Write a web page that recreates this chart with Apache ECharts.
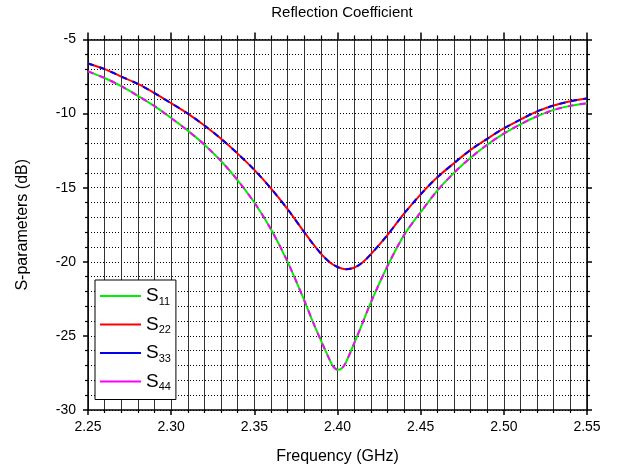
<!DOCTYPE html>
<html>
<head>
<meta charset="utf-8">
<script src="https://cdn.jsdelivr.net/npm/echarts@6/dist/echarts.min.js"></script>
<style>
html,body{margin:0;padding:0;background:#fff;}
#chart{width:617px;height:470px;}
</style>
</head>
<body>
<div id="chart"></div>
<script>
const freq = [2.25,2.26,2.27,2.28,2.29,2.30,2.31,2.32,2.33,2.34,2.35,2.36,2.37,2.38,2.385,2.39,2.395,2.3975,2.40,2.4025,2.405,2.41,2.415,2.42,2.43,2.44,2.45,2.46,2.47,2.48,2.49,2.50,2.51,2.52,2.53,2.54,2.55];
const s11 = [-7.15,-7.6,-8.15,-8.8,-9.5,-10.3,-11.15,-12.1,-13.2,-14.5,-16.0,-17.8,-20.0,-22.6,-24.0,-25.3,-26.55,-27.08,-27.29,-27.2,-26.8,-25.5,-24.15,-22.75,-20.3,-18.2,-16.65,-15.2,-14.0,-12.98,-12.1,-11.35,-10.72,-10.18,-9.75,-9.48,-9.3];
const s22 = [-6.62,-7.0,-7.5,-8.0,-8.62,-9.3,-10.0,-10.8,-11.7,-12.7,-13.8,-15.05,-16.45,-18.0,-18.75,-19.45,-20.0,-20.2,-20.35,-20.45,-20.5,-20.4,-20.05,-19.5,-18.2,-16.75,-15.45,-14.3,-13.35,-12.45,-11.7,-11.0,-10.4,-9.85,-9.45,-9.17,-8.98];
const s33 = [-6.62,-7.0,-7.5,-8.0,-8.62,-9.3,-10.0,-10.8,-11.7,-12.7,-13.8,-15.05,-16.45,-18.0,-18.75,-19.45,-20.0,-20.2,-20.35,-20.45,-20.5,-20.4,-20.05,-19.5,-18.2,-16.75,-15.45,-14.3,-13.35,-12.45,-11.7,-11.0,-10.4,-9.85,-9.45,-9.17,-8.98];
const s44 = [-7.15,-7.6,-8.15,-8.8,-9.5,-10.3,-11.15,-12.1,-13.2,-14.5,-16.0,-17.8,-20.0,-22.6,-24.0,-25.3,-26.55,-27.08,-27.29,-27.2,-26.8,-25.5,-24.15,-22.75,-20.3,-18.2,-16.65,-15.2,-14.0,-12.98,-12.1,-11.35,-10.72,-10.18,-9.75,-9.48,-9.3];
const seriesNames = ['S11','S22','S33','S44'];
const seriesColors = ['#00ee00','#ff0000','#0000ee','#ff00ff'];
const seriesData = [s11, s22, s33, s44];
const seriesDashed = [false, false, true, true];
const xTickLabels = ['2.25','2.30','2.35','2.40','2.45','2.50','2.55'];
const yTickLabels = ['-30','-25','-20','-15','-10','-5'];

const FONT = 'Liberation Sans, Arial, sans-serif';
const chart = echarts.init(document.getElementById('chart'), null, {renderer:'canvas'});

function pairs(ys){ return freq.map((f,i)=>[f, ys[i]]); }

const option = {
  backgroundColor: '#fff',
  animation: false,
  title: {
    text: 'Reflection Coefficient',
    left: 337, textAlign: 'center', top: 0,
    textStyle: {fontFamily: FONT, fontSize: 15, fontWeight: 'normal', color: '#000'}
  },
  grid: {left: 88, right: 30, top: 39.5, height: 372, containLabel: false},
  legend: {
    data: seriesNames,
    orient: 'vertical',
    left: 95, top: 280,
    padding: [6, 5, 7, 5],
    itemGap: 7.5,
    itemWidth: 41, itemHeight: 2,
    icon: 'rect',
    backgroundColor: '#fff',
    borderColor: '#000', borderWidth: 1,
    formatter: function(name){ return '{s|S}{sub|' + name.slice(1) + '}'; },
    textStyle: {
      fontFamily: FONT, color: '#000',
      rich: {
        s: {fontFamily: FONT, fontSize: 19, lineHeight: 22, color: '#000'},
        sub: {fontFamily: FONT, fontSize: 11, lineHeight: 22, color: '#000', padding: [10,0,0,0], verticalAlign: 'bottom'}
      }
    }
  },
  xAxis: [{
    type: 'value', min: 2.25, max: 2.55, interval: 0.05,
    name: 'Frequency (GHz)', nameLocation: 'middle', nameGap: 39,
    nameTextStyle: {fontFamily: FONT, fontSize: 16, color: '#000'},
    axisLine: {show: true, onZero: false, lineStyle: {color: '#000', width: 1.5}},
    axisTick: {show: true, inside: false, length: 5, lineStyle: {color: '#000', width: 1.5}},
    minorTick: {show: true, splitNumber: 5, length: 3, lineStyle: {color: '#000', width: 1.2}},
    axisLabel: {fontFamily: FONT, fontSize: 14, color: '#000', margin: 10,
      formatter: function(v){ const s = v.toFixed(2); return xTickLabels.indexOf(s) >= 0 ? s : ''; }},
    splitLine: {show: true, lineStyle: {color: '#333', width: 1, type: 'solid'}},
    minorSplitLine: {show: true, lineStyle: {color: '#333', width: 1, type: 'solid'}}
  }, {
    type: 'value', position: 'top', min: 2.25, max: 2.55, interval: 0.05,
    axisLine: {show: true, onZero: false, lineStyle: {color: '#000', width: 1.5}},
    axisTick: {show: true, inside: false, length: 7, lineStyle: {color: '#000', width: 1.5}},
    minorTick: {show: true, splitNumber: 5, length: 4, lineStyle: {color: '#000', width: 1.2}},
    axisLabel: {show: false},
    splitLine: {show: false}
  }],
  yAxis: [{
    type: 'value', min: -30, max: -5, interval: 5,
    name: 'S-parameters (dB)', nameLocation: 'middle', nameGap: 57,
    nameTextStyle: {fontFamily: FONT, fontSize: 16, color: '#000'},
    axisLine: {show: true, onZero: false, lineStyle: {color: '#000', width: 1.5}},
    axisTick: {show: true, inside: false, length: 5, lineStyle: {color: '#000', width: 1.5}},
    minorTick: {show: true, splitNumber: 5, length: 3, lineStyle: {color: '#000', width: 1.2}},
    axisLabel: {fontFamily: FONT, fontSize: 14, color: '#000', margin: 12,
      formatter: function(v){ const s = String(Math.round(v)); return yTickLabels.indexOf(s) >= 0 ? s : ''; }},
    splitLine: {show: true, lineStyle: {color: '#000', width: 1, type: [1, 2]}},
    minorSplitLine: {show: true, lineStyle: {color: '#000', width: 1, type: [1, 2]}}
  }, {
    type: 'value', position: 'right', min: -30, max: -5, interval: 5,
    axisLine: {show: true, onZero: false, lineStyle: {color: '#000', width: 1.5}},
    axisTick: {show: true, inside: false, length: 5, lineStyle: {color: '#000', width: 1.5}},
    minorTick: {show: true, splitNumber: 5, length: 3, lineStyle: {color: '#000', width: 1.2}},
    axisLabel: {show: false},
    splitLine: {show: false}
  }],
  series: seriesNames.map((n, i) => ({
    name: n, type: 'line', xAxisIndex: 0, yAxisIndex: 0,
    data: pairs(seriesData[i]),
    showSymbol: false, symbol: 'none', smooth: 0.3,
    color: seriesColors[i],
    itemStyle: {color: seriesColors[i]},
    lineStyle: {color: seriesColors[i], width: 2, type: seriesDashed[i] ? [6, 6] : 'solid'},
    z: 2 + i
  }))
};
chart.setOption(option);
</script>
</body>
</html>
